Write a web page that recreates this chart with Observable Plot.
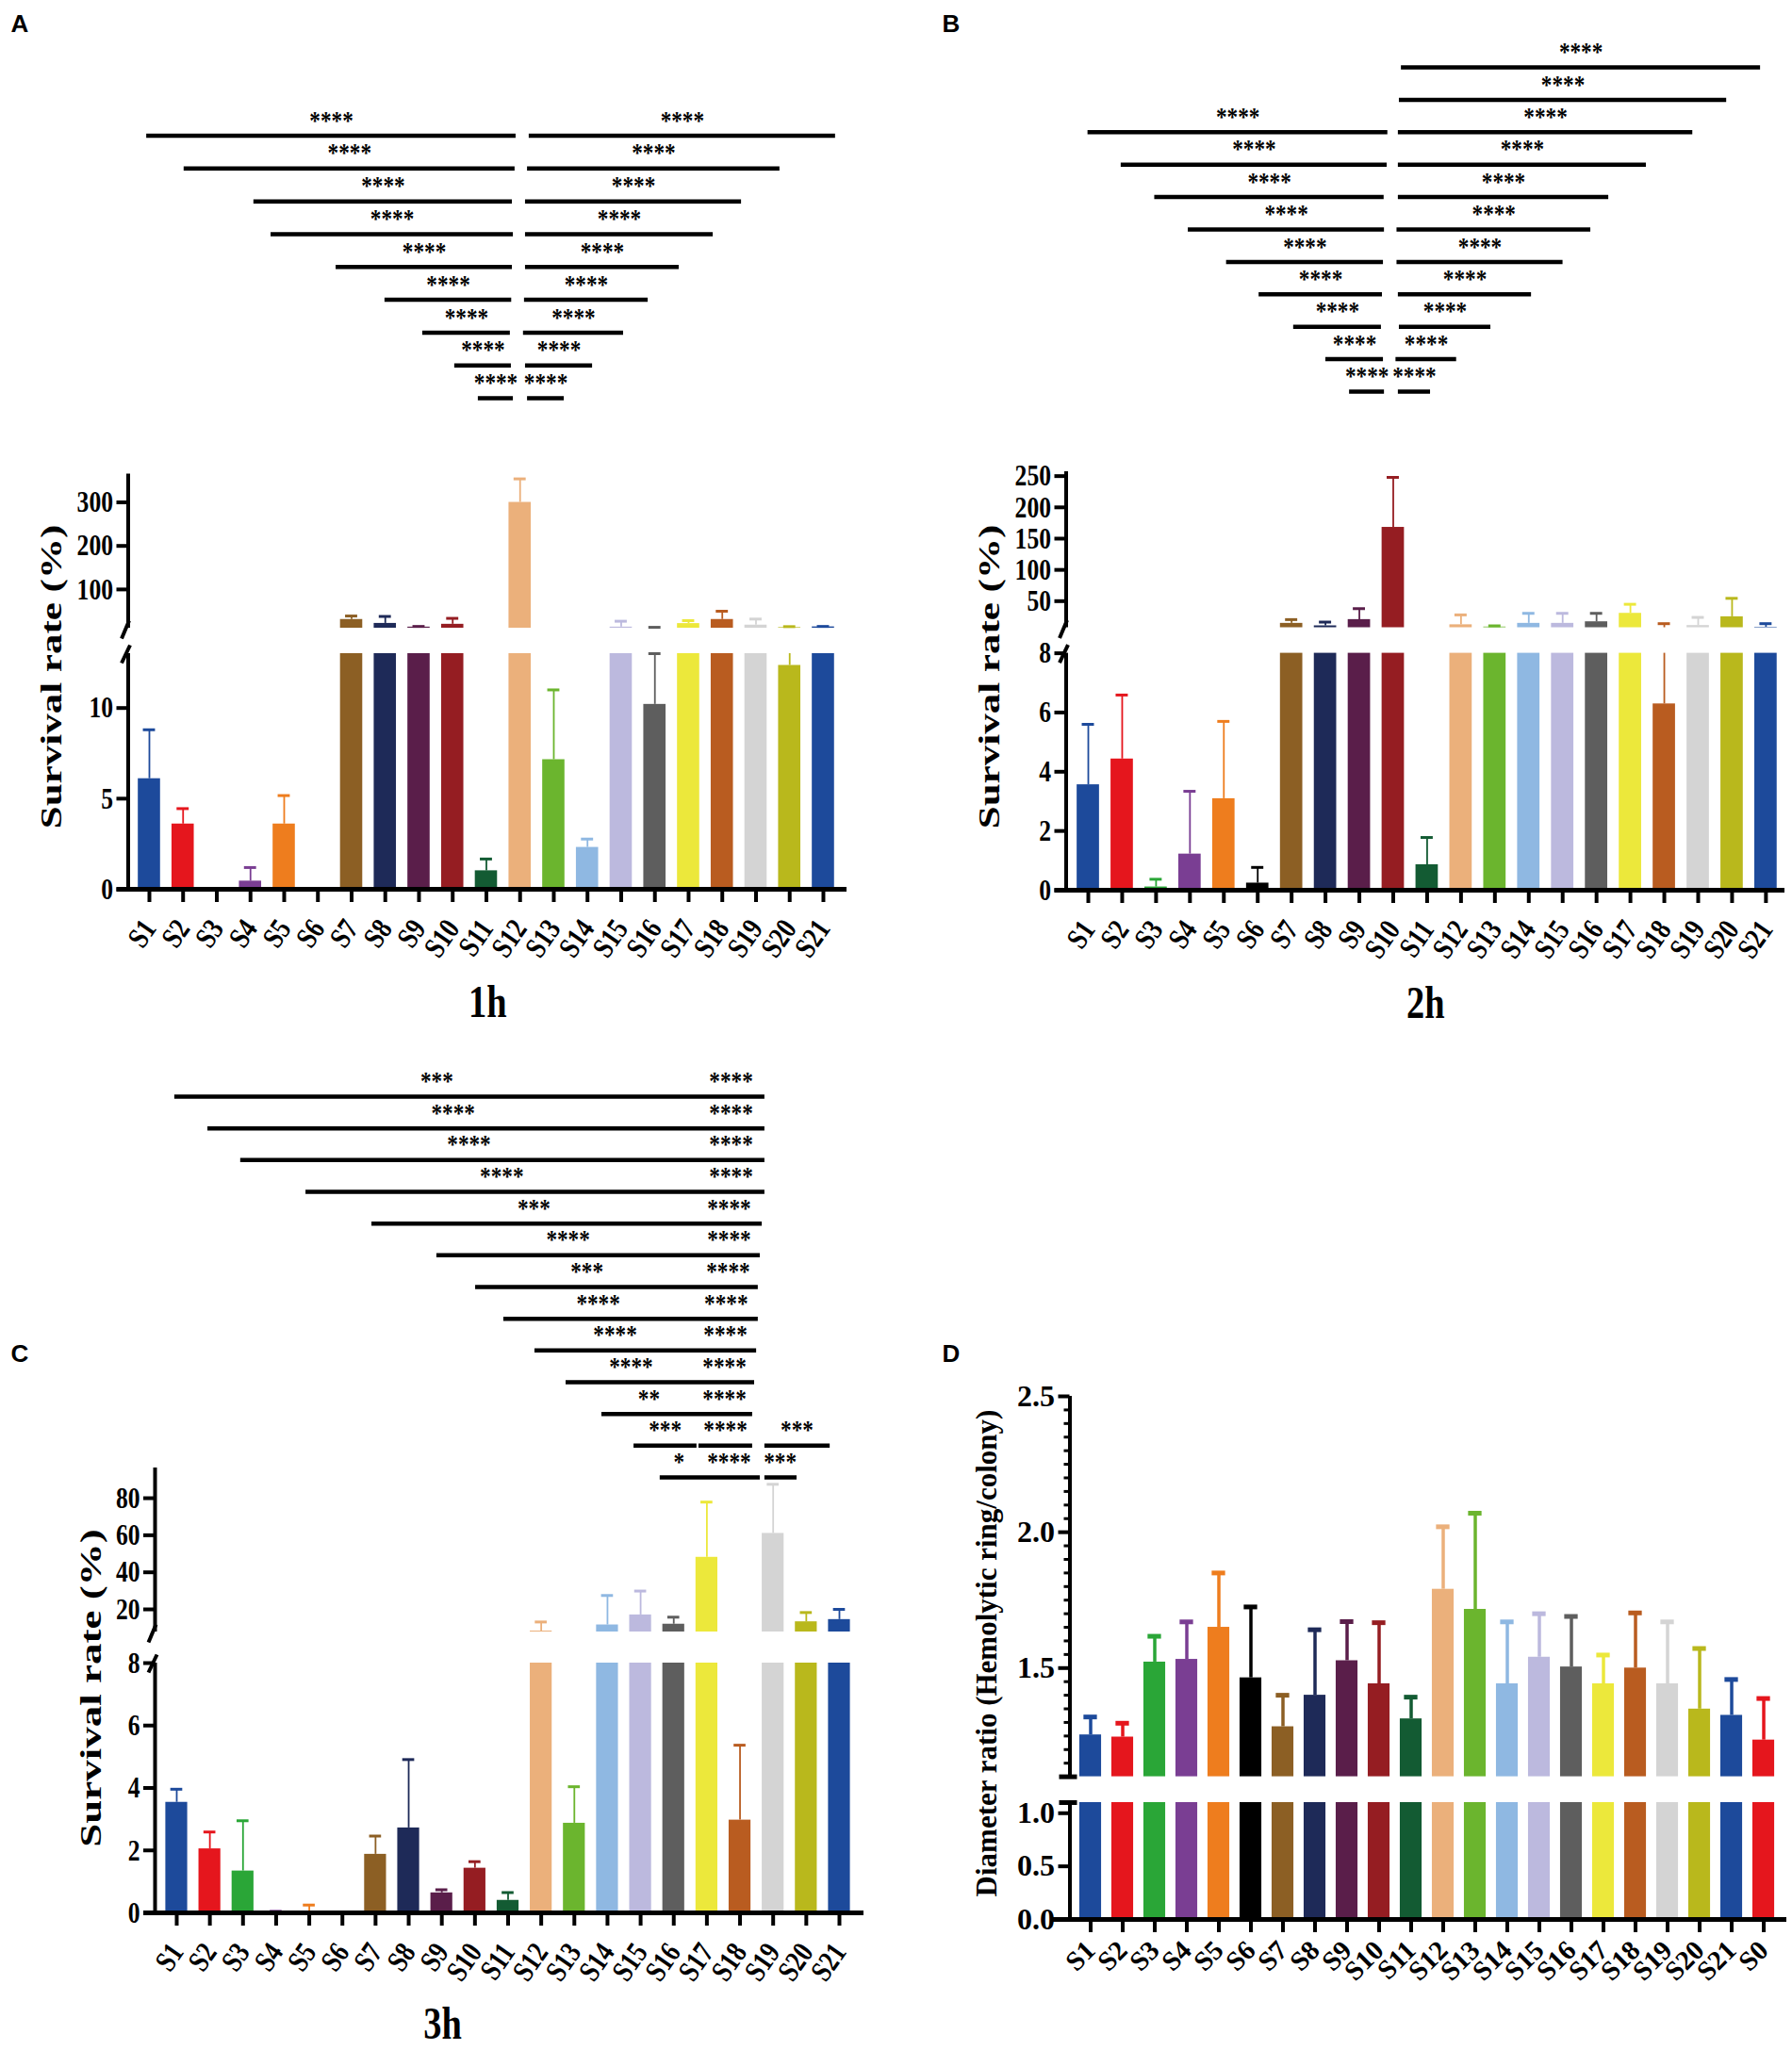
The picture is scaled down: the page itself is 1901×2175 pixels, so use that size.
<!DOCTYPE html>
<html><head><meta charset="utf-8">
<script src="https://cdn.jsdelivr.net/npm/d3@7"></script>
<script src="https://cdn.jsdelivr.net/npm/@observablehq/plot@0.6"></script>
<style>
html,body{margin:0;padding:0;background:#fff;overflow:hidden;}
#fig{position:relative;width:1901px;height:2175px;background:#fff;font-family:"Liberation Serif","Times New Roman",serif;}
.letter{position:absolute;font-family:"Liberation Sans",Arial,sans-serif;font-weight:bold;font-size:26px;transform:translate(-50%,-50%);}
.ytitle{position:absolute;font-family:"Liberation Serif","Times New Roman",serif;font-weight:bold;white-space:nowrap;transform:translate(-50%,-50%) rotate(-90deg);}
.ytitle.squash{transform:translate(-50%,-50%) rotate(-90deg) scaleY(0.72);}
</style></head>
<body><div id="fig"></div>
<script>
// ---------- categories & colours ----------
const categories = ["S1","S2","S3","S4","S5","S6","S7","S8","S9","S10","S11","S12","S13","S14","S15","S16","S17","S18","S19","S20","S21"];
const categoriesD = ["S1","S2","S3","S4","S5","S6","S7","S8","S9","S10","S11","S12","S13","S14","S15","S16","S17","S18","S19","S20","S21","S0"];
const barColors = ["#1d4a9b","#e5161d","#2aa637","#7a3e93","#ee7d1e","#000000","#8c5f24","#1e2a58","#5a1e4a","#951d22","#135b33","#ebb07b","#6bb52e","#8fb8e2","#bcb9de","#5e5e5e","#ece83b","#b95c20","#d4d4d4","#b9b81c","#1d4a9b","#e5161d"];

// ---------- survival rate (%) : mean and upper SD ----------
const mean1h = [6.1,3.6,0,0.45,3.6,0,31,22,13.5,20,1.02,300,7.15,2.31,13.5,10.2,21.6,31,18,12.35,14];
const sd1h   = [2.7,0.85,0,0.75,1.57,0,8,16,1.5,13.6,0.65,54,3.85,0.46,13.5,2.8,6.8,19,14,2.25,1];
const mean2h = [3.56,4.43,0.11,1.22,3.09,0.24,14.5,10.5,20.5,168,0.86,12.2,8.6,14.5,14.5,17,30.5,6.29,11,25,8.3];
const sd2h   = [2.04,2.16,0.26,2.12,2.61,0.53,6,6,17.5,80,0.92,15.8,1.9,16,16,13.5,14.5,7.7,13,29.5,5.7];
const mean3h = [3.54,2.05,1.34,0.03,0.05,0,1.875,2.72,0.64,1.43,0.4,8.3,2.87,11.6,17,12,48.1,2.97,61,13.3,14.5];
const sd3h   = [0.42,0.54,1.61,0.02,0.2,0,0.585,2.19,0.1,0.21,0.25,4.9,1.17,15.9,12.9,3.8,29.8,2.4,26.5,5.0,5.5];
// ---------- diameter ratio ----------
const meanD = [1.254,1.246,1.522,1.532,1.65,1.464,1.284,1.40,1.527,1.442,1.313,1.79,1.716,1.442,1.54,1.504,1.442,1.50,1.442,1.349,1.326,1.235];
const sdD   = [0.066,0.051,0.095,0.138,0.20,0.261,0.116,0.241,0.144,0.225,0.08,0.23,0.354,0.228,0.16,0.186,0.106,0.203,0.228,0.223,0.132,0.153];

// ---------- axis ticks ----------
const ticksA = {upper:[100,200,300], lower:[0,5,10]};
const ticksB = {upper:[50,100,150,200,250], lower:[0,2,4,6,8]};
const ticksC = {upper:[20,40,60,80], lower:[0,2,4,6,8]};
const ticksD = {upper:[1.5,2.0,2.5], lower:[0,0.5,1.0]};

// ---------- significance brackets (row, from, to in bar-position units) ----------
const bracketRowA  = [1,2,3,4,5,6,7,8,9, 1,2,3,4,5,6,7,8,9];
const bracketFromA = [0.92,2.03,4.10,4.61,6.54,7.99,9.11,10.06,10.76, 12.27,12.22,12.16,12.16,12.16,12.13,12.10,12.16,12.22];
const bracketToA   = [11.88,11.85,11.77,11.80,11.77,11.75,11.71,11.74,11.80, 21.36,19.71,18.57,17.73,16.72,15.80,15.07,14.15,13.31];
const bracketStarA = ["****","****","****","****","****","****","****","****","****","****","****","****","****","****","****","****","****","****"];

const bracketRowB  = [3,4,5,6,7,8,9,10,11, 1,2,3,4,5,6,7,8,9,10,11];
const bracketFromB = [0.99,1.97,2.96,3.95,5.08,6.04,7.06,8.01,8.71, 10.24,10.18,10.15,10.15,10.15,10.11,10.11,10.15,10.18,10.08,10.15];
const bracketToB   = [9.84,9.82,9.73,9.74,9.71,9.68,9.65,9.71,9.74, 20.84,19.84,18.84,17.47,16.36,15.83,15.01,14.08,12.88,11.87,11.10];
const bracketStarB = ["****","****","****","****","****","****","****","****","****","****","****","****","****","****","****","****","****","****","****","****"];

const bracketRowC  = [1,2,3,4,5,6,7,8,9,10,11,12,12,12,13,13,13];
const bracketFromC = [0.94,1.94,2.93,4.90,6.89,8.85,10.02,10.87,11.81,12.75,13.83,14.80,16.76,18.75,15.59,16.79,18.75];
const bracketToC   = [18.75,18.75,18.75,18.75,18.67,18.61,18.55,18.55,18.50,18.44,18.38,16.70,18.38,20.72,16.79,18.61,19.72];
const starRowC  = [1,1,2,2,3,3,4,4,5,5,6,6,7,7,8,8,9,9,10,10,11,11,12,12,12,13,13,13];
const starPosC  = [8.85,17.73,9.34,17.73,9.82,17.73,10.81,17.73,11.78,17.67,12.81,17.67,13.38,17.64,13.72,17.58,14.23,17.56,14.71,17.53,15.25,17.53,15.74,17.56,19.72,16.16,17.67,19.21];
const starTextC = ["***","****","****","****","****","****","****","****","***","****","****","****","***","****","****","****","****","****","****","****","**","****","***","****","***","*","****","***"];

// ---------- helpers ----------
const SERIF = '"Liberation Serif","Times New Roman",Times,serif';
const fig = document.getElementById("fig");

// narrow the glyphs of Plot-drawn text (the reference uses a condensed bold serif)
function condenseText(svg, s) {
  if (s === 1) return;
  svg.querySelectorAll("text").forEach(el => {
    const w = el.getComputedTextLength();
    if (w > 0) {
      el.setAttribute("textLength", (w * s).toFixed(2));
      el.setAttribute("lengthAdjust", "spacingAndGlyphs");
    }
  });
}

function makePlot(o) {
  const fx = px => o.xDomain[0] + (px - o.xPx[0]) * (o.xDomain[1] - o.xDomain[0]) / (o.xPx[1] - o.xPx[0]);
  const fy = px => o.yDomain[0] + (px - o.yPx[0]) * (o.yDomain[1] - o.yDomain[0]) / (o.yPx[1] - o.yPx[0]);
  const svg = Plot.plot({
    width: o.width, height: o.height,
    marginLeft: o.xPx[0] - o.left, marginRight: o.left + o.width - o.xPx[1],
    marginTop: o.yPx[1] - o.top, marginBottom: o.top + o.height - o.yPx[0],
    x: {type: "linear", domain: o.xDomain, axis: null},
    y: {type: "linear", domain: o.yDomain, axis: null},
    color: {type: "identity"},
    style: {background: "transparent", overflow: "visible", fontFamily: SERIF, color: "#000"},
    marks: o.marks(fx, fy)
  });
  svg.style.position = "absolute";
  svg.style.left = o.left + "px";
  svg.style.top = o.top + "px";
  fig.appendChild(svg);
  condenseText(svg, o.condense ?? 1);
}

function barMarks(rows, lo, hi, st) {
  const bars = rows.filter(d => d.mean > lo).map(d => ({...d, b0: lo, b1: Math.min(d.mean, hi)}));
  const errs = rows.filter(d => d.top > d.mean && d.top > lo && d.mean < hi)
                   .map(d => ({...d, e0: Math.max(d.mean, lo), e1: Math.min(d.top, hi)}));
  const caps = rows.filter(d => d.top > d.mean && d.top > lo && d.top <= hi);
  return [
    Plot.rect(bars, {x1: d => d.i - st.barW / 2, x2: d => d.i + st.barW / 2, y1: "b0", y2: "b1", fill: "color"}),
    Plot.ruleX(errs, {x: "i", y1: "e0", y2: "e1", stroke: "color", strokeWidth: st.errW}),
    Plot.ruleY(caps, {y: "top", x1: d => d.i - st.capW / 2, x2: d => d.i + st.capW / 2, stroke: "color", strokeWidth: st.capSW})
  ];
}

const yAxis = (ticks, fmt, fs) => Plot.axisY({ticks, tickFormat: fmt, tickSize: 12, tickPadding: 4, strokeWidth: 4, fontSize: fs, fontWeight: "bold", label: null});
const xAxis = (cats, fs, pad, rot) => Plot.axisX({ticks: d3.range(1, cats.length + 1), tickFormat: i => cats[i - 1], tickSize: 14, tickPadding: pad, tickRotate: rot, strokeWidth: 4, fontSize: fs, fontWeight: "bold", label: null});

function addText(cls, txt, x, y, size) {
  const d = document.createElement("div");
  d.className = cls; d.textContent = txt;
  d.style.left = x + "px"; d.style.top = y + "px"; d.style.fontSize = size + "px";
  fig.appendChild(d);
}

function rowsOf(cats, means, sds) {
  return cats.map((c, k) => ({i: k + 1, cat: c, mean: means[k], top: means[k] + sds[k], color: barColors[k]}));
}

function survivalPanel(p) {
  const rows = rowsOf(categories, p.means, p.sds);
  const st = {barW: 0.66, errW: 1.8, capW: 0.36, capSW: 3};
  const base = {left: p.left, width: p.width, xPx: [p.axisPx, p.endPx], xDomain: p.xDomain, condense: 0.8};
  makePlot({...base, top: p.upper.top, height: p.upper.height, yPx: p.upper.yPx, yDomain: p.upper.domain,
    marks: (fx, fy) => [
      ...barMarks(rows, p.upper.domain[0], p.upper.domain[1], st),
      Plot.ruleX([p.xDomain[0]], {y1: () => p.upper.domain[0], y2: () => p.upper.domain[1], strokeWidth: 4}),
      Plot.link([0], {x1: () => fx(p.axisPx + 1), y1: () => fy(p.upper.yPx[0] - 8), x2: () => fx(p.axisPx - 7), y2: () => fy(p.upper.yPx[0] + 11), strokeWidth: 4}),
      yAxis(p.ticks.upper, d => d, 32)
    ]});
  makePlot({...base, top: p.lower.top, height: p.lower.height, yPx: p.lower.yPx, yDomain: p.lower.domain,
    marks: (fx, fy) => [
      ...barMarks(rows, p.lower.domain[0], p.lower.domain[1], st),
      Plot.ruleX([p.xDomain[0]], {y1: () => p.lower.domain[0], y2: () => p.lower.domain[1], strokeWidth: 4}),
      Plot.link([0], {x1: () => fx(p.axisPx + 2), y1: () => fy(p.lower.yPx[1] - 9), x2: () => fx(p.axisPx - 7), y2: () => fy(p.lower.yPx[1] + 10), strokeWidth: 4}),
      Plot.ruleY([0], {x1: () => fx(p.axisPx - 12), x2: () => p.xDomain[1], strokeWidth: 5}),
      yAxis(p.ticks.lower, d => d, 32),
      xAxis(categories, 32, 22, -55),
      Plot.text([p.title], {text: d => d, frameAnchor: "bottom", dy: p.titleDy, dx: p.titleDx, fontSize: 48, fontWeight: "bold"})
    ]});
}

function bracketPanel(b) {
  const lines = b.rows.map((r, k) => ({row: r, x1: b.from[k], x2: b.to[k]}));
  const labels = b.labelRows
    ? b.labelRows.map((r, k) => ({row: r, x: b.labelPos[k], text: b.labelText[k]}))
    : lines.map((l, k) => ({row: l.row, x: (l.x1 + l.x2) / 2, text: b.stars[k]}));
  makePlot({left: b.left, width: b.width, top: b.top, height: b.height, xPx: [b.axisPx, b.endPx], xDomain: b.xDomain,
    yPx: b.yPx, yDomain: [b.nRows, 1], condense: 0.86,
    marks: () => [
      Plot.ruleY(lines, {y: "row", x1: "x1", x2: "x2", strokeWidth: 4.5}),
      Plot.text(labels, {x: "x", y: "row", text: "text", dy: -16, fontSize: 27, fontWeight: "bold"})
    ]});
}

// ---------- Panel A : 1h ----------
const layoutA = {left: 0, width: 950, axisPx: 135.5, endPx: 898, xDomain: [0.371, 21.70]};
bracketPanel({...layoutA, top: 90, height: 360, yPx: [422, 143.5], nRows: 9,
  rows: bracketRowA, from: bracketFromA, to: bracketToA, stars: bracketStarA});
survivalPanel({...layoutA, means: mean1h, sds: sd1h, ticks: ticksA, title: "1h", titleDy: 135, titleDx: 0,
  upper: {top: 470, height: 215, yPx: [666, 502.5], domain: [11, 365]},
  lower: {top: 680, height: 420, yPx: [943, 693], domain: [0, 13]}});

// ---------- Panel B : 2h ----------
const layoutB = {left: 950, width: 951, axisPx: 1130.5, endPx: 1893, xDomain: [0.346, 21.56]};
bracketPanel({...layoutB, top: 20, height: 430, yPx: [415, 71], nRows: 11,
  rows: bracketRowB, from: bracketFromB, to: bracketToB, stars: bracketStarB});
survivalPanel({...layoutB, means: mean2h, sds: sd2h, ticks: ticksB, title: "2h", titleDy: 135, titleDx: 0,
  upper: {top: 470, height: 215, yPx: [665.5, 500], domain: [7.5, 257]},
  lower: {top: 680, height: 420, yPx: [944, 692.6], domain: [0, 8]}});

// ---------- Panel C : 3h ----------
const layoutC = {left: 0, width: 950, axisPx: 164, endPx: 916, xDomain: [0.346, 21.74]};
bracketPanel({...layoutC, top: 1110, height: 480, yPx: [1567, 1163], nRows: 13,
  rows: bracketRowC, from: bracketFromC, to: bracketToC,
  labelRows: starRowC, labelPos: starPosC, labelText: starTextC});
survivalPanel({...layoutC, means: mean3h, sds: sd3h, ticks: ticksC, title: "3h", titleDy: 133, titleDx: -71,
  upper: {top: 1540, height: 205, yPx: [1731, 1557], domain: [7.8, 96.3]},
  lower: {top: 1745, height: 430, yPx: [2029, 1764], domain: [0, 8]}});

// ---------- Panel D : diameter ratio ----------
(function () {
  const L = {left: 950, width: 951, axisPx: 1134.5, endPx: 1895, xDomain: [0.353, 22.72]};
  const base = {left: L.left, width: L.width, xPx: [L.axisPx, L.endPx], xDomain: L.xDomain};
  const rows = rowsOf(categoriesD, meanD, sdD);
  const st = {barW: 0.68, errW: 3.5, capW: 0.42, capSW: 5};
  const up = {top: 1460, height: 440, yPx: [1884.6, 1481], domain: [1.1, 2.5]};
  const lo = {top: 1900, height: 275, yPx: [2036, 1912], domain: [0, 1.1]};
  const minor = d3.range(23, 50).map(k => k * 0.05).filter(v => Math.abs(v * 2 - Math.round(v * 2)) > 1e-6);
  makePlot({...base, top: up.top, height: up.height, yPx: up.yPx, yDomain: up.domain,
    marks: (fx, fy) => [
      ...barMarks(rows, up.domain[0], up.domain[1], st),
      Plot.ruleX([L.xDomain[0]], {y1: () => up.domain[0], y2: () => up.domain[1], strokeWidth: 4}),
      Plot.ruleY([up.domain[0]], {x1: () => fx(L.axisPx - 11), x2: () => fx(L.axisPx + 8), strokeWidth: 5}),
      Plot.axisY({ticks: minor, tickFormat: () => "", tickSize: 6, strokeWidth: 3, label: null}),
      yAxis(ticksD.upper, d => d.toFixed(1), 32)
    ]});
  makePlot({...base, top: lo.top, height: lo.height, yPx: lo.yPx, yDomain: lo.domain,
    marks: (fx, fy) => [
      ...barMarks(rows, lo.domain[0], lo.domain[1], st),
      Plot.ruleX([L.xDomain[0]], {y1: () => lo.domain[0], y2: () => lo.domain[1], strokeWidth: 4}),
      Plot.ruleY([lo.domain[1]], {x1: () => fx(L.axisPx - 11), x2: () => fx(L.axisPx + 8), strokeWidth: 5}),
      Plot.ruleY([0], {x1: () => fx(L.axisPx - 20), x2: () => L.xDomain[1], strokeWidth: 5}),
      yAxis(ticksD.lower, d => d.toFixed(1), 32),
      xAxis(categoriesD, 29, 14, -45)
    ]});
})();

// ---------- titles & panel letters ----------
addText("ytitle squash", "Survival rate (%)", 55, 718, 43);
addText("ytitle squash", "Survival rate (%)", 1050, 718, 43);
addText("ytitle squash", "Survival rate (%)", 96, 1791, 45);
addText("ytitle", "Diameter ratio (Hemolytic ring/colony)", 1047, 1754, 31);
addText("letter", "A", 21, 25, 26);
addText("letter", "B", 1009, 25, 26);
addText("letter", "C", 21, 1436, 26);
addText("letter", "D", 1009, 1436, 26);
</script>
</body></html>
